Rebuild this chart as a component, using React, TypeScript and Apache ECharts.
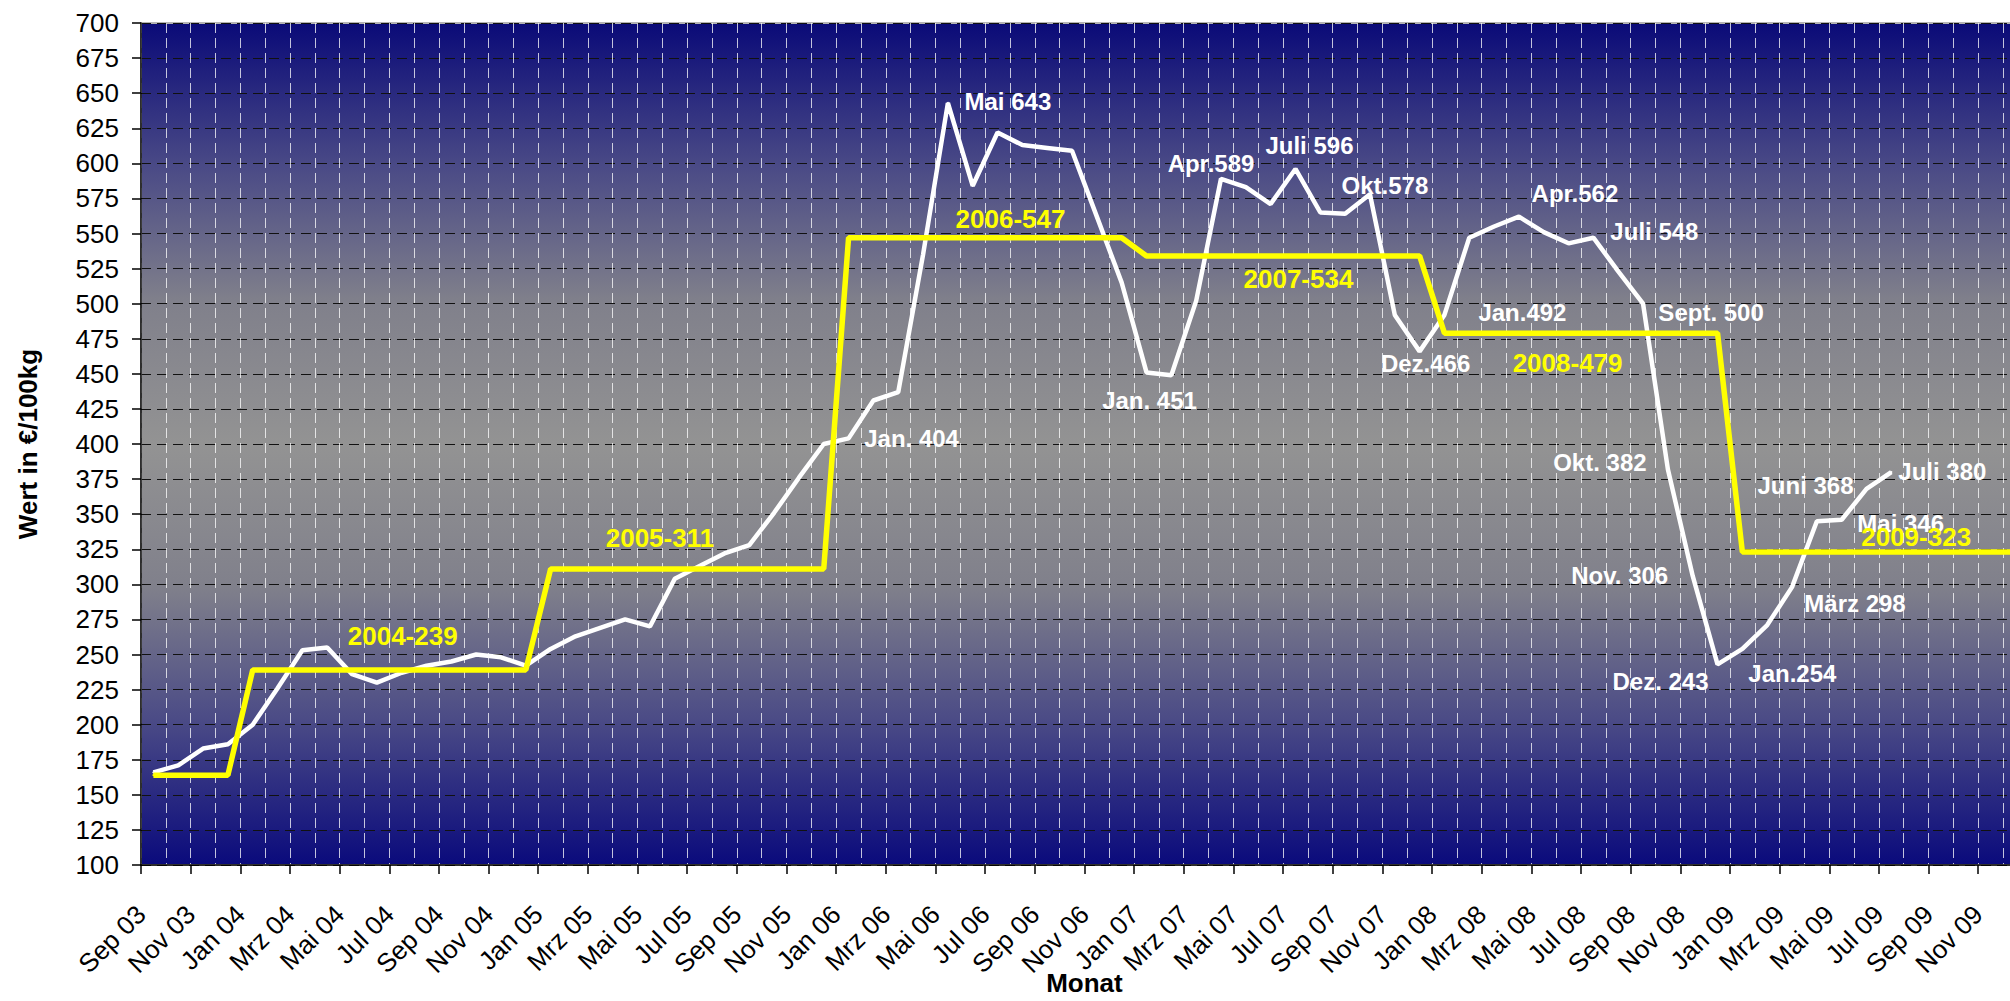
import React, { useEffect, useRef } from "react";
import * as echarts from "echarts";

// ---------- DATA ----------
const categories = [
  "Sep 03", "Okt 03", "Nov 03", "Dez 03",
  "Jan 04", "Feb 04", "Mrz 04", "Apr 04", "Mai 04", "Jun 04", "Jul 04", "Aug 04", "Sep 04", "Okt 04", "Nov 04", "Dez 04",
  "Jan 05", "Feb 05", "Mrz 05", "Apr 05", "Mai 05", "Jun 05", "Jul 05", "Aug 05", "Sep 05", "Okt 05", "Nov 05", "Dez 05",
  "Jan 06", "Feb 06", "Mrz 06", "Apr 06", "Mai 06", "Jun 06", "Jul 06", "Aug 06", "Sep 06", "Okt 06", "Nov 06", "Dez 06",
  "Jan 07", "Feb 07", "Mrz 07", "Apr 07", "Mai 07", "Jun 07", "Jul 07", "Aug 07", "Sep 07", "Okt 07", "Nov 07", "Dez 07",
  "Jan 08", "Feb 08", "Mrz 08", "Apr 08", "Mai 08", "Jun 08", "Jul 08", "Aug 08", "Sep 08", "Okt 08", "Nov 08", "Dez 08",
  "Jan 09", "Feb 09", "Mrz 09", "Apr 09", "Mai 09", "Jun 09", "Jul 09", "Aug 09", "Sep 09", "Okt 09", "Nov 09", "Dez 09",
];

// monthly price (white line), Sep 03 .. Jul 09
const monthlyValues = [
  166, 171, 183, 186,
  200, 226, 253, 255, 236, 230, 237, 242, 245, 250, 248, 242,
  254, 263, 269, 275, 270, 304, 313, 322, 328, 351, 376, 400,
  404, 431, 437, 535, 643, 584, 622, 613, 611, 609, 562, 515,
  451, 449, 502, 589, 583, 571, 596, 565, 564, 578, 492, 466,
  492, 547, 555, 562, 551, 543, 547, 523, 500, 382, 306, 243,
  254, 271, 298, 345, 346, 368, 380,
];

// yearly average (yellow line)
const yearlyAverage = [
  164, 164, 164, 164,
  239, 239, 239, 239, 239, 239, 239, 239, 239, 239, 239, 239,
  311, 311, 311, 311, 311, 311, 311, 311, 311, 311, 311, 311,
  547, 547, 547, 547, 547, 547, 547, 547, 547, 547, 547, 547,
  534, 534, 534, 534, 534, 534, 534, 534, 534, 534, 534, 534,
  479, 479, 479, 479, 479, 479, 479, 479, 479, 479, 479, 479,
  323, 323, 323, 323, 323, 323, 323, 323, 323, 323, 323, 323,
];

const yTickMin = 100;
const yTickMax = 700;
const yTickStep = 25;

// annotation texts: [category index, text]
const monthlyNotes: [number, string][] = [
  [28, "Jan. 404"], [32, "Mai 643"], [40, "Jan. 451"], [43, "Apr.589"], [46, "Juli 596"],
  [49, "Okt.578"], [51, "Dez.466"], [52, "Jan.492"], [55, "Apr.562"], [58, "Juli 548"],
  [60, "Sept. 500"], [61, "Okt. 382"], [62, "Nov. 306"], [63, "Dez. 243"], [64, "Jan.254"],
  [66, "März 298"], [68, "Mai 346"], [69, "Juni 368"], [70, "Juli 380"],
];
const yearlyNotes: [number, string][] = [
  [10, "2004-239"], [20, "2005-311"], [34, "2006-547"], [46, "2007-534"], [57, "2008-479"], [71, "2009-323"],
];

// ---------- LAYOUT / STYLE ----------
const monthlyOffsets: Record<number, [number, number]> = {
  28: [63, 0], 32: [60, -1], 40: [3, 28], 43: [-10, -15], 46: [14, -23], 49: [15, -9],
  51: [6, 12], 52: [78, -2], 55: [56, -23], 58: [61, -6], 60: [68, 9], 61: [-68, -7],
  62: [-73, 0], 63: [-57, 17], 64: [50, 25], 66: [63, 16], 68: [59, 4], 69: [-61, -3], 70: [51, -1],
};
const yearlyOffsets: Record<number, [number, number]> = {
  10: [1, -34], 20: [10, -31], 34: [13, -19], 46: [3, 23], 57: [-1, 30], 71: [0, -15],
};

const FONT = "'Liberation Sans', Arial, sans-serif";

function buildData(values: number[], notes: [number, string][], offsets: Record<number, [number, number]>, labelStyle: any) {
  const noteMap = new Map(notes);
  return values.map((v, i) => {
    if (!noteMap.has(i)) return v;
    return {
      value: v,
      label: {
        show: true,
        position: "inside",
        align: "center",
        verticalAlign: "middle",
        offset: offsets[i] || [0, 0],
        formatter: noteMap.get(i),
        ...labelStyle,
      },
    };
  });
}

export default function App() {
  const ref = useRef<HTMLDivElement>(null);

  useEffect(() => {
    if (!ref.current) return;
    const chart = echarts.init(ref.current, null, { renderer: "svg" });

    const bg = new echarts.graphic.LinearGradient(0, 0, 0, 1, [
      { offset: 0, color: "#0a0a78" },
      { offset: 0.17, color: "#4a4a86" },
      { offset: 0.33, color: "#80808b" },
      { offset: 0.5, color: "#939393" },
      { offset: 0.67, color: "#80808b" },
      { offset: 0.83, color: "#4a4a86" },
      { offset: 1, color: "#0a0a7c" },
    ]);

    // label axis: one more slot so that labels sit on the category boundaries
    const boundaryLabels = [...categories, ""];

    const option: any = {
      animation: false,
      backgroundColor: "#ffffff",
      textStyle: { fontFamily: FONT },
      grid: {
        left: 141,
        right: 2,
        top: 23,
        bottom: 130,
        show: true,
        backgroundColor: bg,
        borderColor: "#b4b4b4",
        borderWidth: 2,
      },
      xAxis: [
        {
          type: "category",
          data: categories,
          boundaryGap: true,
          position: "bottom",
          name: "Monat",
          nameLocation: "middle",
          nameGap: 105,
          nameTextStyle: { fontSize: 26, fontWeight: "bold", color: "#000", fontFamily: FONT },
          axisLine: { show: true, lineStyle: { color: "#000", width: 1.5 } },
          axisTick: { show: true, interval: 1, length: 9, lineStyle: { color: "#000", width: 1.5 } },
          axisLabel: { show: false },
          splitLine: {
            show: true,
            interval: 0,
            lineStyle: { color: "rgba(255,255,255,0.75)", width: 1, type: [10, 5] },
          },
        },
        {
          type: "category",
          data: boundaryLabels,
          boundaryGap: false,
          position: "bottom",
          offset: 0,
          axisLine: { show: false },
          axisTick: { show: false },
          splitLine: { show: false },
          axisLabel: {
            interval: 1,
            rotate: 45,
            margin: 45,
            fontSize: 26,
            color: "#000",
            fontFamily: FONT,
          },
        },
      ],
      yAxis: {
        type: "value",
        min: yTickMin,
        max: yTickMax,
        interval: yTickStep,
        name: "Wert in €/100kg",
        nameLocation: "middle",
        nameRotate: 90,
        nameGap: 100,
        nameTextStyle: { fontSize: 26, fontWeight: "bold", color: "#000", fontFamily: FONT },
        axisLine: { show: true, lineStyle: { color: "#000", width: 1.5 } },
        axisTick: { show: true, length: 9, lineStyle: { color: "#000", width: 1.5 } },
        axisLabel: { fontSize: 26, color: "#000", margin: 22, fontFamily: FONT },
        splitLine: {
          show: true,
          lineStyle: { color: "#111", width: 1, type: [10, 6] },
        },
      },
      series: [
        {
          name: "Monat",
          type: "line",
          xAxisIndex: 0,
          data: buildData(monthlyValues, monthlyNotes, monthlyOffsets, {
            color: "#ffffff",
            fontSize: 24,
            fontWeight: "bold",
            fontFamily: FONT,
          }),
          symbol: "circle",
          symbolSize: 2,
          showSymbol: true,
          showAllSymbol: true,
          itemStyle: { color: "#ffffff" },
          lineStyle: { color: "#ffffff", width: 4.5 },
          emphasis: { disabled: true },
          silent: true,
          z: 3,
        },
        {
          name: "Jahr",
          type: "line",
          xAxisIndex: 0,
          data: buildData(yearlyAverage, yearlyNotes, yearlyOffsets, {
            color: "#ffff00",
            fontSize: 26,
            fontWeight: "bold",
            fontFamily: FONT,
          }),
          symbol: "circle",
          symbolSize: 2,
          showSymbol: true,
          showAllSymbol: true,
          itemStyle: { color: "#ffff00" },
          lineStyle: { color: "#ffff00", width: 5.5 },
          emphasis: { disabled: true },
          silent: true,
          z: 4,
        },
      ],
    };

    chart.setOption(option);
    return () => chart.dispose();
  }, []);

  return (
    <div
      style={{
        position: "fixed",
        left: 0,
        top: 0,
        width: 2010,
        height: 1001,
        overflow: "hidden",
        background: "#fff",
      }}
    >
      <div ref={ref} style={{ width: 2030, height: 1001 }} />
    </div>
  );
}
